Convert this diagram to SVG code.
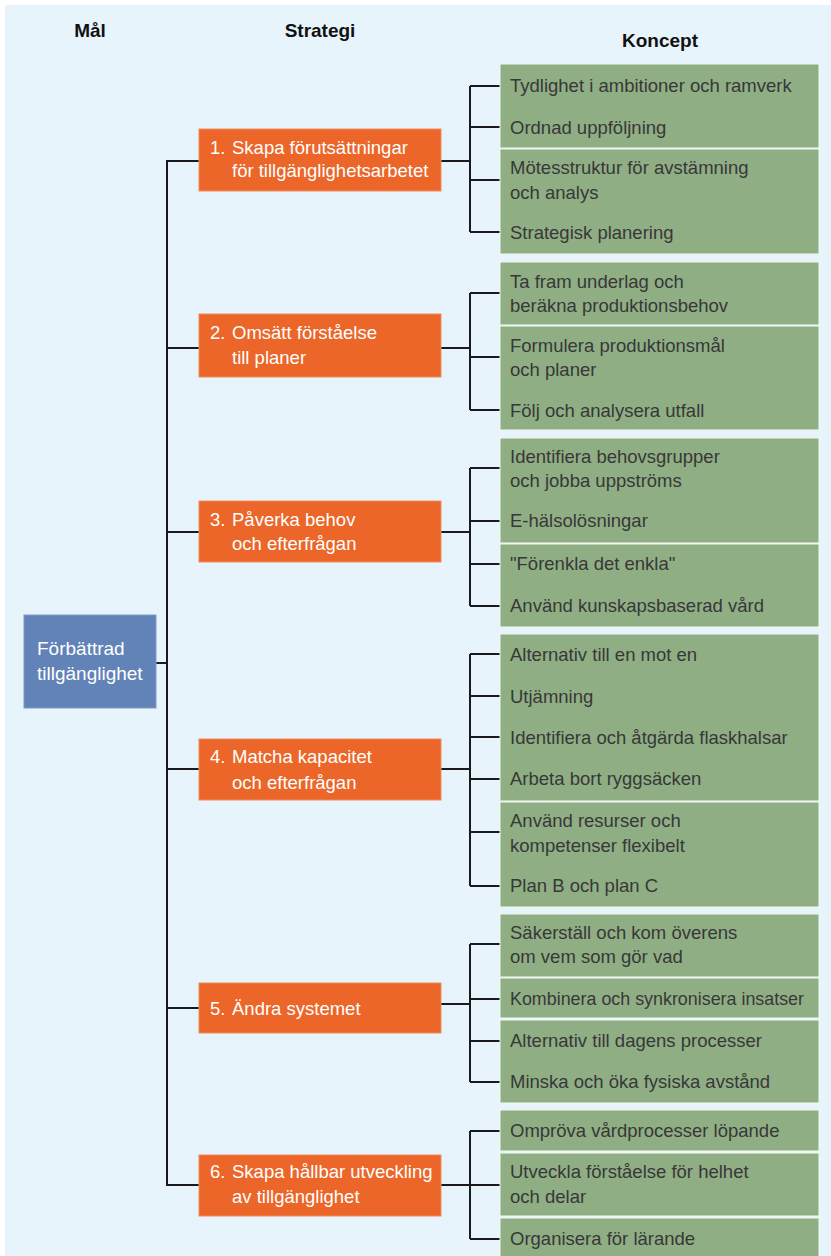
<svg xmlns="http://www.w3.org/2000/svg" width="831" height="1256" viewBox="0 0 831 1256">
<style>
.hdr{font-family:"Liberation Sans",Arial,sans-serif;font-weight:bold;font-size:19px;fill:#111;text-anchor:middle}
.goal{fill:#6283B8;stroke:#7f9cc8;stroke-width:1}
.goalt{font-family:"Liberation Sans",Arial,sans-serif;font-size:19px;fill:#fff}
.strat{fill:#EB6628;stroke:#f08c5c;stroke-width:1}
.stratt{font-family:"Liberation Sans",Arial,sans-serif;font-size:18.5px;fill:#fff}
.panel{fill:#8FAE84;stroke:#f2f8ef;stroke-width:1}
.ct{font-family:"Liberation Sans",Arial,sans-serif;font-size:18.5px;fill:#383838}
.ln{fill:none;stroke:#1a1a1a;stroke-width:2}
</style>
<rect x="0" y="0" width="831" height="1256" fill="#ffffff"/>
<rect x="5" y="5" width="826" height="1251" fill="#E8F4FC"/>
<g id="headers">
<text class="hdr" x="90" y="37">Mål</text>
<text class="hdr" x="320" y="37">Strategi</text>
<text class="hdr" x="660" y="47">Koncept</text>
</g>
<g id="connectors">
<path class="ln" d="M167,160 V1186 M156,663 H167 M167,161 H199 M167,348 H199 M167,532 H199 M167,769 H199 M167,1008 H199 M167,1185 H199"/>
<path class="ln" d="M441,161 H470 M470,86 V232 M470,86 H500 M470,127 H500 M470,180 H500 M470,232 H500"/>
<path class="ln" d="M441,348 H470 M470,293 V410 M470,293 H500 M470,357 H500 M470,410 H500"/>
<path class="ln" d="M441,532 H470 M470,468 V606 M470,468 H500 M470,521 H500 M470,564 H500 M470,606 H500"/>
<path class="ln" d="M441,769 H470 M470,654 V886 M470,654 H500 M470,696 H500 M470,737 H500 M470,779 H500 M470,832 H500 M470,886 H500"/>
<path class="ln" d="M441,1004 H470 M470,944 V1082 M470,944 H500 M470,999 H500 M470,1041 H500 M470,1082 H500"/>
<path class="ln" d="M441,1185 H470 M470,1131 V1239 M470,1131 H500 M470,1185 H500 M470,1239 H500"/>
</g>
<g id="goal">
<rect class="goal" x="24" y="615" width="132" height="93"/>
<text class="goalt" x="37" y="655">Förbättrad</text>
<text class="goalt" x="37" y="680">tillgänglighet</text>
</g>
<g id="strategy1">
<rect class="strat" x="199" y="129" width="242" height="62"/>
<text class="stratt" y="153.5"><tspan x="210">1.</tspan><tspan x="232">Skapa förutsättningar</tspan></text>
<text class="stratt" x="232" y="176.5">för tillgänglighetsarbetet</text>
</g>
<g id="strategy2">
<rect class="strat" x="199" y="314" width="242" height="63"/>
<text class="stratt" y="339"><tspan x="210">2.</tspan><tspan x="232">Omsätt förståelse</tspan></text>
<text class="stratt" x="232" y="363.5">till planer</text>
</g>
<g id="strategy3">
<rect class="strat" x="199" y="501" width="242" height="61"/>
<text class="stratt" y="525.5"><tspan x="210">3.</tspan><tspan x="232">Påverka behov</tspan></text>
<text class="stratt" x="232" y="550">och efterfrågan</text>
</g>
<g id="strategy4">
<rect class="strat" x="199" y="739" width="242" height="61"/>
<text class="stratt" y="763"><tspan x="210">4.</tspan><tspan x="232">Matcha kapacitet</tspan></text>
<text class="stratt" x="232" y="788.5">och efterfrågan</text>
</g>
<g id="strategy5">
<rect class="strat" x="199" y="983" width="242" height="50"/>
<text class="stratt" y="1014.5"><tspan x="210">5.</tspan><tspan x="232">Ändra systemet</tspan></text>
</g>
<g id="strategy6">
<rect class="strat" x="199" y="1155" width="242" height="61"/>
<text class="stratt" y="1178"><tspan x="210">6.</tspan><tspan x="232">Skapa hållbar utveckling</tspan></text>
<text class="stratt" x="232" y="1203">av tillgänglighet</text>
</g>
<g id="concepts1">
<rect class="panel" x="500" y="64" width="319" height="84"/>
<rect class="panel" x="500" y="149" width="319" height="105"/>
<g id="c1a"><text class="ct" x="510" y="92">Tydlighet i ambitioner och ramverk</text></g>
<g id="c1b"><text class="ct" x="510" y="133.5">Ordnad uppföljning</text></g>
<g id="c1c"><text class="ct" x="510" y="173.5">Mötesstruktur för avstämning</text><text class="ct" x="510" y="198.5">och analys</text></g>
<g id="c1d"><text class="ct" x="510" y="238.5">Strategisk planering</text></g>
</g>
<g id="concepts2">
<rect class="panel" x="500" y="262" width="319" height="63"/>
<rect class="panel" x="500" y="326" width="319" height="104"/>
<g id="c2a"><text class="ct" x="510" y="287.5">Ta fram underlag och</text><text class="ct" x="510" y="311.5">beräkna produktionsbehov</text></g>
<g id="c2b"><text class="ct" x="510" y="351.5">Formulera produktionsmål</text><text class="ct" x="510" y="375.5">och planer</text></g>
<g id="c2c"><text class="ct" x="510" y="417">Följ och analysera utfall</text></g>
</g>
<g id="concepts3">
<rect class="panel" x="500" y="438" width="319" height="105"/>
<rect class="panel" x="500" y="544" width="319" height="83"/>
<g id="c3a"><text class="ct" x="510" y="463">Identifiera behovsgrupper</text><text class="ct" x="510" y="487">och jobba uppströms</text></g>
<g id="c3b"><text class="ct" x="510" y="527">E-hälsolösningar</text></g>
<g id="c3c"><text class="ct" x="510" y="570">"Förenkla det enkla"</text></g>
<g id="c3d"><text class="ct" x="510" y="611.5">Använd kunskapsbaserad vård</text></g>
</g>
<g id="concepts4">
<rect class="panel" x="500" y="634" width="319" height="167"/>
<rect class="panel" x="500" y="802" width="319" height="105"/>
<g id="c4a"><text class="ct" x="510" y="660.5">Alternativ till en mot en</text></g>
<g id="c4b"><text class="ct" x="510" y="702.5">Utjämning</text></g>
<g id="c4c"><text class="ct" x="510" y="743.5">Identifiera och åtgärda flaskhalsar</text></g>
<g id="c4d"><text class="ct" x="510" y="785">Arbeta bort ryggsäcken</text></g>
<g id="c4e"><text class="ct" x="510" y="826.5">Använd resurser och</text><text class="ct" x="510" y="851.5">kompetenser flexibelt</text></g>
<g id="c4f"><text class="ct" x="510" y="891.5">Plan B och plan C</text></g>
</g>
<g id="concepts5">
<rect class="panel" x="500" y="914" width="319" height="63"/>
<rect class="panel" x="500" y="978" width="319" height="40"/>
<rect class="panel" x="500" y="1020" width="319" height="83"/>
<g id="c5a"><text class="ct" x="510" y="939">Säkerställ och kom överens</text><text class="ct" x="510" y="963">om vem som gör vad</text></g>
<g id="c5b"><text class="ct" x="510" y="1005" textLength="294" lengthAdjust="spacingAndGlyphs">Kombinera och synkronisera insatser</text></g>
<g id="c5c"><text class="ct" x="510" y="1046.5">Alternativ till dagens processer</text></g>
<g id="c5d"><text class="ct" x="510" y="1088">Minska och öka fysiska avstånd</text></g>
</g>
<g id="concepts6">
<rect class="panel" x="500" y="1110" width="319" height="41"/>
<rect class="panel" x="500" y="1153" width="319" height="63"/>
<rect class="panel" x="500" y="1218" width="319" height="45"/>
<g id="c6a"><text class="ct" x="510" y="1136.5">Ompröva vårdprocesser löpande</text></g>
<g id="c6b"><text class="ct" x="510" y="1178">Utveckla förståelse för helhet</text><text class="ct" x="510" y="1203">och delar</text></g>
<g id="c6c"><text class="ct" x="510" y="1245">Organisera för lärande</text></g>
</g>
</svg>
